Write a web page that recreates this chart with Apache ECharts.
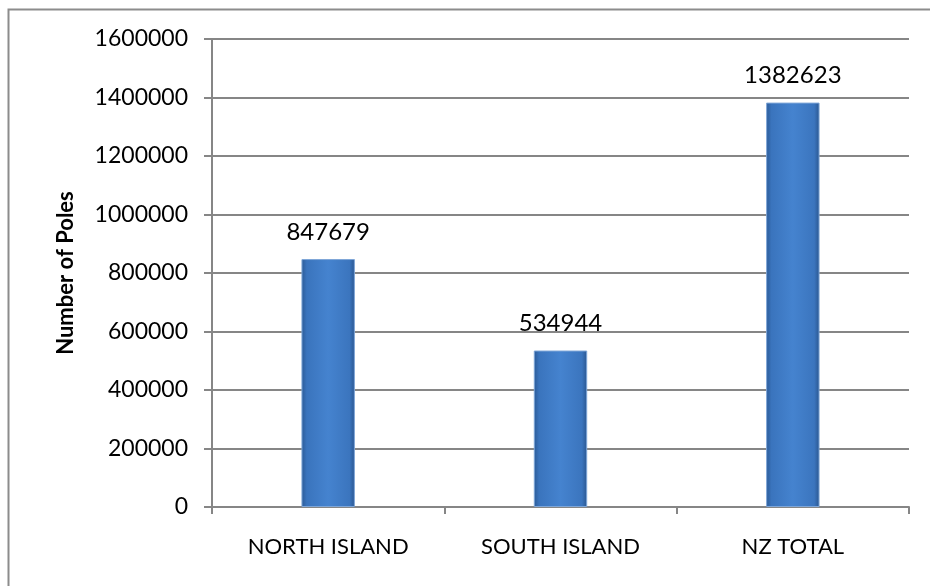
<!DOCTYPE html>
<html>
<head>
<meta charset="utf-8">
<script src="https://cdn.jsdelivr.net/npm/echarts@6/dist/echarts.min.js"></script>
<style>
  html, body { margin: 0; padding: 0; background: #fff; }
  #chart { width: 930px; height: 586px; }
</style>
</head>
<body>
<div id="chart"></div>
<script>
// Utility poles counted per region
const categories = ['NORTH ISLAND', 'SOUTH ISLAND', 'NZ TOTAL'];
const poleCounts = [847679, 534944, 1382623];
const yAxisTitle = 'Number of Poles';

const fontFamily = 'Lato, "Open Sans", sans-serif';
const axisGrey = '#868686';

// Bevelled blue fill: darker edges, lighter centre
const barFill = new echarts.graphic.LinearGradient(0, 0, 1, 0, [
  { offset: 0, color: '#2b5a96' },
  { offset: 0.1, color: '#3a74bd' },
  { offset: 0.5, color: '#4583cf' },
  { offset: 0.9, color: '#3b75be' },
  { offset: 1, color: '#2a568f' }
]);

const chart = echarts.init(document.getElementById('chart'), null, { renderer: 'canvas' });

chart.setOption({
  backgroundColor: '#ffffff',
  animation: false,
  graphic: [{
    type: 'rect',
    shape: { x: 8.5, y: 9.5, width: 940, height: 600 },
    style: { fill: 'none', stroke: '#8c8c8c', lineWidth: 2 },
    silent: true
  }],
  grid: { left: 212, right: 21, top: 39, bottom: 79 },
  xAxis: {
    type: 'category',
    data: categories,
    boundaryGap: true,
    axisLine: { lineStyle: { color: axisGrey, width: 2 } },
    axisTick: { show: true, length: 7, lineStyle: { color: axisGrey, width: 2 } },
    axisLabel: { color: '#000', fontFamily, fontSize: 22, margin: 29 }
  },
  yAxis: {
    type: 'value',
    min: 0,
    max: 1600000,
    interval: 200000,
    name: yAxisTitle,
    nameLocation: 'middle',
    nameRotate: 90,
    nameGap: 135,
    nameTextStyle: { color: '#000', fontFamily, fontSize: 22, fontWeight: 'bold' },
    axisLine: { show: true, lineStyle: { color: axisGrey, width: 2 } },
    axisTick: { show: true, length: 8, lineStyle: { color: axisGrey, width: 2 } },
    splitLine: { show: true, lineStyle: { color: axisGrey, width: 2 } },
    axisLabel: {
      color: '#000', fontFamily, fontSize: 23, margin: 24,
      formatter: (v) => String(v)
    }
  },
  series: [{
    type: 'bar',
    data: poleCounts,
    barWidth: '23%',
    itemStyle: { color: barFill, borderColor: '#7ea6d8', borderWidth: 1 },
    label: {
      show: true,
      position: 'top',
      distance: 15,
      color: '#000',
      fontFamily,
      fontSize: 24,
      formatter: (p) => String(p.value)
    }
  }]
});
</script>
</body>
</html>
